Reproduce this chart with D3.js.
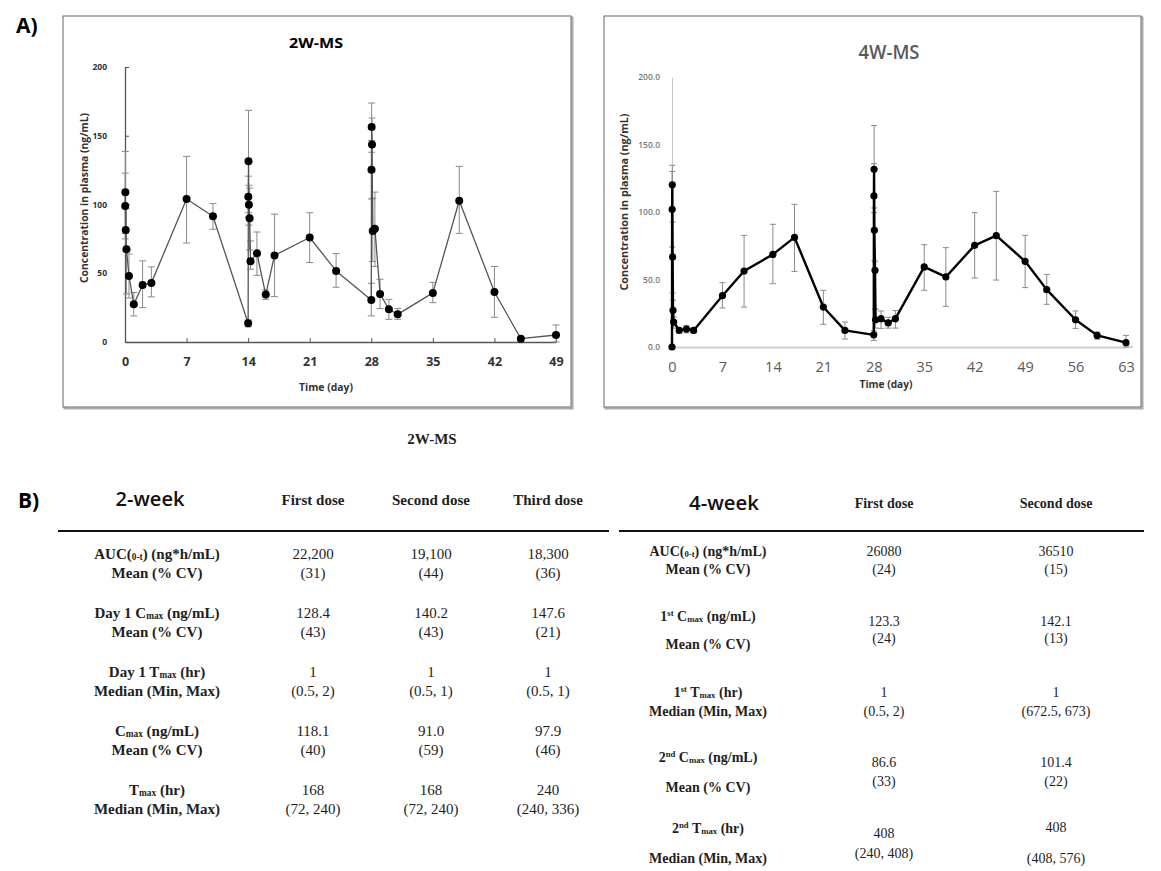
<!DOCTYPE html>
<html>
<head>
<meta charset="utf-8">
<script src="https://cdn.jsdelivr.net/npm/d3@7.9.0/dist/d3.min.js"></script>
<style>
  body { margin: 0; background: #fff; }
  svg { display: block; }
</style>
</head>
<body>
<svg id="fig" width="1161" height="871"></svg>
<script>
// ---- 2W-MS: mean concentration (ng/mL) with error bar ends ----
const days2w = [0.021, 0.042, 0.083, 0.167, 0.45, 1, 2, 3, 7, 10, 14, 14.021, 14.042, 14.083, 14.167, 14.27, 15, 16, 17, 21, 24, 28, 28.021, 28.042, 28.083, 28.167, 28.41, 29, 30, 31, 35, 38, 42, 45, 49];
const conc2w = [99, 109, 81.5, 67.5, 48, 27.4, 41.5, 43, 104, 91.5, 13.6, 105.6, 131.5, 99.8, 90, 58.7, 64.5, 34.5, 63, 76, 51.7, 30.6, 125.2, 156.3, 143.7, 80.8, 82.3, 35, 23.8, 20.1, 35.7, 102.7, 36.4, 2.4, 5.1];
const hi2w = [122.8, 138.6, 97, 100, 64, 36, 59, 54.6, 135, 100.7, 16, 120.6, 168.5, 114, 112, 73.5, 80, 37.9, 93, 94, 64.3, 42.7, 146.6, 173.8, 162.9, 104.6, 109, 45.6, 31, 24.3, 43.4, 127.7, 54.9, 2.4, 12.4];
const lo2w = [75, 79, 66, 35, 32, 19, 25, 32.8, 72, 82, 11, 91, 94, 85, 67, 53, 48.5, 31, 33, 57.8, 39.8, 19, 104, 138, 124, 58.5, 55, 24.3, 16.5, 16.5, 28.6, 79, 18, 2.4, 0];
const xTicks2w = [0, 7, 14, 21, 28, 35, 42, 49];
const yTicks2w = [0, 50, 100, 150, 200];

// ---- 4W-MS ----
const days4w = [0, 0.021, 0.042, 0.083, 0.14, 0.23, 1, 2, 3, 7, 10, 14, 17, 21, 24, 28, 28.021, 28.042, 28.083, 28.167, 28.25, 29, 30, 31, 35, 38, 42, 45, 49, 52, 56, 59, 63];
const conc4w = [0, 102, 120.2, 66.7, 27.2, 18.5, 12.3, 13.3, 12.3, 38, 56.3, 68.6, 81.2, 29.6, 12.3, 9, 111.9, 131.6, 86.4, 56.8, 20.2, 21, 17.8, 21, 59.3, 51.9, 75.3, 82.5, 63.5, 42.5, 20.2, 8.6, 3.2];
const hi4w = [0, 130, 134.6, 92.6, 34.6, 22.2, 14, 16, 14, 47.7, 82.7, 90.9, 105.7, 42, 18.5, 12, 135.8, 164, 103, 63, 28, 26.7, 22, 27, 75.8, 73.6, 99.5, 115.3, 82.7, 53.8, 26.7, 11.1, 8.6];
const lo4w = [0, 74, 100.5, 40, 20, 14, 10.5, 10.5, 10.5, 28.9, 29.6, 46.9, 56, 16.8, 5.9, 4.9, 88, 99.5, 64, 28, 14, 13.8, 14, 14, 42, 30.1, 51.1, 49.6, 44, 31.6, 13.8, 5.7, 0];
const xTicks4w = [0, 7, 14, 21, 28, 35, 42, 49, 56, 63];
const yTicks4w = [0, 50, 100, 150, 200];

// ---- PK tables (B) ----
// _x_ = small subscript-style text, ^x^ = superscript
const doses2w = ['First dose', 'Second dose', 'Third dose'];
const labelTop2w = ['AUC(_0-t_) (ng*h/mL)', 'Day 1 C_max_ (ng/mL)', 'Day 1 T_max_ (hr)', 'C_max_ (ng/mL)', 'T_max_ (hr)'];
const labelBot2w = ['Mean (% CV)', 'Mean (% CV)', 'Median (Min, Max)', 'Mean (% CV)', 'Median (Min, Max)'];
const first2w = ['22,200', '128.4', '1', '118.1', '168'];
const second2w = ['19,100', '140.2', '1', '91.0', '168'];
const third2w = ['18,300', '147.6', '1', '97.9', '240'];
const first2wSub = ['(31)', '(43)', '(0.5, 2)', '(40)', '(72, 240)'];
const second2wSub = ['(44)', '(43)', '(0.5, 1)', '(59)', '(72, 240)'];
const third2wSub = ['(36)', '(21)', '(0.5, 1)', '(46)', '(240, 336)'];

const doses4w = ['First dose', 'Second dose'];
const labelTop4w = ['AUC(_0-t_) (ng*h/mL)', '1^st^ C_max_ (ng/mL)', '1^st^ T_max_ (hr)', '2^nd^ C_max_ (ng/mL)', '2^nd^ T_max_ (hr)'];
const labelBot4w = ['Mean (% CV)', 'Mean (% CV)', 'Median (Min, Max)', 'Mean (% CV)', 'Median (Min, Max)'];
const first4w = ['26080', '123.3', '1', '86.6', '408'];
const second4w = ['36510', '142.1', '1', '101.4', '408'];
const first4wSub = ['(24)', '(24)', '(0.5, 2)', '(33)', '(240, 408)'];
const second4wSub = ['(15)', '(13)', '(672.5, 673)', '(22)', '(408, 576)'];

const SANS = '"Open Sans", "Noto Sans", sans-serif';
const SERIF = '"Liberation Serif", "DejaVu Serif", serif';

const svg = d3.select('#fig');
svg.append('rect').attr('width', 1161).attr('height', 871).attr('fill', '#fff');

// panel frame with a little drop shadow on the right / bottom
function frame(x0, y0, w, h) {
  svg.append('rect').attr('x', x0 + 1.5).attr('y', y0 + 1.5).attr('width', w).attr('height', h)
    .attr('fill', 'none').attr('stroke', '#aaa').attr('stroke-width', 2);
  svg.append('rect').attr('x', x0).attr('y', y0).attr('width', w).attr('height', h)
    .attr('fill', '#fff').attr('stroke', '#666').attr('stroke-width', 1);
}

// error bars + line + dots
function drawSeries(x, y, days, conc, hi, lo, opt) {
  const g = svg.append('g');
  const idx = d3.range(days.length).filter(i => hi[i] > lo[i]);
  const cap = opt.cap;
  const eb = g.selectAll('g.eb').data(idx).join('g')
    .attr('stroke', opt.errColor).attr('stroke-width', 1);
  eb.append('line')
    .attr('x1', i => x(days[i])).attr('x2', i => x(days[i]))
    .attr('y1', i => y(hi[i])).attr('y2', i => y(lo[i]));
  eb.append('line')
    .attr('x1', i => x(days[i]) - cap).attr('x2', i => x(days[i]) + cap)
    .attr('y1', i => y(hi[i])).attr('y2', i => y(hi[i]));
  eb.append('line')
    .attr('x1', i => x(days[i]) - cap).attr('x2', i => x(days[i]) + cap)
    .attr('y1', i => y(lo[i])).attr('y2', i => y(lo[i]));

  const line = d3.line().x((d, i) => x(days[i])).y(d => y(d));
  g.append('path').datum(conc).attr('d', line)
    .attr('fill', 'none').attr('stroke', opt.lineColor).attr('stroke-width', opt.lineWidth)
    .attr('stroke-linejoin', 'round');

  g.selectAll('circle').data(conc).join('circle')
    .attr('cx', (d, i) => x(days[i])).attr('cy', d => y(d))
    .attr('r', opt.r).attr('fill', '#000');
}

function label(txt, x, y, o) {
  const t = svg.append('text').attr('x', x).attr('y', y)
    .attr('text-anchor', o.anchor || 'middle')
    .attr('font-family', o.family || SANS)
    .attr('font-size', o.size).attr('font-weight', o.weight || 'normal')
    .attr('fill', o.fill || '#000').text(txt);
  if (o.rotate) t.attr('transform', `rotate(-90,${x},${y})`);
  if (o.len) t.attr('textLength', o.len).attr('lengthAdjust', 'spacingAndGlyphs');
  return t;
}

// ---------------- A) panel letters and frames ----------------
label('A)', 16, 33, { anchor: 'start', size: 21, weight: 'bold' });
frame(63, 16, 508, 391);
frame(604, 16, 537, 391);

// ---------------- 2W-MS chart ----------------
const x2 = d3.scaleLinear().domain([0, 49]).range([125, 556]);
const y2 = d3.scaleLinear().domain([0, 200]).range([342, 67]);

svg.append('g').attr('transform', `translate(0,${y2(0)})`)
  .call(d3.axisBottom(x2).tickValues(xTicks2w).tickSizeInner(-4).tickSizeOuter(0).tickPadding(15))
  .call(g => {
    g.select('.domain').attr('stroke', '#555').attr('stroke-width', 1.3);
    g.selectAll('.tick line').attr('stroke', '#555');
    g.selectAll('text').attr('font-family', SANS).attr('font-size', 12.5)
      .attr('font-weight', 'bold').attr('fill', '#333');
  });
svg.append('g').attr('transform', `translate(${x2(0)},0)`)
  .call(d3.axisLeft(y2).tickValues(yTicks2w).tickSizeInner(-4).tickSizeOuter(0).tickPadding(18))
  .call(g => {
    g.select('.domain').attr('stroke', '#555').attr('stroke-width', 1.3);
    g.selectAll('.tick line').attr('stroke', '#555');
    g.selectAll('text').attr('font-family', SANS).attr('font-size', 8.5)
      .attr('font-weight', 'bold').attr('fill', '#333');
  });

drawSeries(x2, y2, days2w, conc2w, hi2w, lo2w,
  { cap: 3.5, errColor: '#8a8a8a', lineColor: '#555', lineWidth: 1.3, r: 4 });

label('2W-MS', 316, 48, { size: 15, weight: 'bold', len: 54 });
label('Time (day)', 326, 391, { size: 10, weight: 'bold', fill: '#333', len: 54 });
label('Concentration in plasma  (ng/mL)', 88, 198, { size: 10.5, weight: 'bold', fill: '#333', rotate: true, len: 170 });

// ---------------- 4W-MS chart ----------------
const x4 = d3.scaleLinear().domain([0, 63]).range([672, 1126]);
const y4 = d3.scaleLinear().domain([0, 200]).range([347, 77]);

svg.append('g').attr('transform', `translate(${x4(0)},0)`)
  .call(d3.axisLeft(y4).tickValues(yTicks4w).tickSize(0).tickPadding(12).tickFormat(d3.format('.1f')))
  .call(g => {
    g.select('.domain').attr('stroke', '#c8c8c8').attr('stroke-width', 1);
    g.selectAll('text').attr('font-family', SANS).attr('font-size', 8.5)
      .attr('font-weight', 600).attr('fill', '#777');
  });
svg.append('g').attr('transform', `translate(0,${y4(0)})`)
  .call(d3.axisBottom(x4).tickValues(xTicks4w).tickSize(0).tickPadding(15))
  .call(g => {
    g.select('.domain').attr('stroke', '#d6d6d6').attr('stroke-width', 2.5);
    g.append('line').attr('x1', x4(63)).attr('x2', x4(63) + 7)
      .attr('stroke', '#d6d6d6').attr('stroke-width', 2.5);
    g.selectAll('text').attr('font-family', SANS).attr('font-size', 14.5).attr('fill', '#595959');
  });

drawSeries(x4, y4, days4w, conc4w, hi4w, lo4w,
  { cap: 3, errColor: '#8a8a8a', lineColor: '#000', lineWidth: 2.4, r: 3.6 });

label('4W-MS', 889, 59, { size: 19, weight: 600, fill: '#595959', len: 61 });
label('Time (day)', 886, 388, { size: 10.5, weight: 'bold', fill: '#333', len: 53 });
label('Concentration in plasma  (ng/mL)', 628, 202, { size: 10.5, weight: 'bold', fill: '#333', rotate: true, len: 177 });

// ---------------- B) tables ----------------
label('2W-MS', 432, 444, { family: SERIF, size: 15, weight: 'bold', fill: '#222' });
label('B)', 18, 508, { anchor: 'start', size: 21, weight: 'bold' });

function richText(x, y, str, o) {
  const t = svg.append('text').attr('x', x).attr('y', y).attr('text-anchor', 'middle')
    .attr('font-family', SERIF).attr('font-size', o.size)
    .attr('font-weight', o.weight || 'normal').attr('fill', '#1e1e1e');
  const parts = str.split(/(_[^_]+_|\^[^^]+\^)/).filter(s => s);
  let shift = 0;
  parts.forEach(p => {
    let txt = p, d = 0, small = false;
    if (p[0] === '_') { txt = p.slice(1, -1); d = 1; small = true; }
    else if (p[0] === '^') { txt = p.slice(1, -1); d = -5; small = true; }
    const sp = t.append('tspan').attr('dy', d - shift).text(txt);
    if (small) sp.attr('font-size', o.size * 0.62);
    shift = d;
  });
  return t;
}

// 2-week table
const lab2x = 157, col2x = [313, 431, 548];
label('2-week', 150, 506, { size: 19.5, weight: 600, fill: '#111', len: 69 });
doses2w.forEach((d, j) => richText(col2x[j], 505, d, { size: 15, weight: 'bold' }));
svg.append('line').attr('x1', 58).attr('x2', 609).attr('y1', 531).attr('y2', 531)
  .attr('stroke', '#111').attr('stroke-width', 2.2);
const vals2w = [first2w, second2w, third2w];
const subs2w = [first2wSub, second2wSub, third2wSub];
labelTop2w.forEach((l, i) => {
  const yA = 559 + 59 * i, yB = yA + 19;
  richText(lab2x, yA, l, { size: 15, weight: 'bold' });
  richText(lab2x, yB, labelBot2w[i], { size: 15, weight: 'bold' });
  vals2w.forEach((v, j) => {
    richText(col2x[j], yA, v[i], { size: 15 });
    richText(col2x[j], yB, subs2w[j][i], { size: 15 });
  });
});

// 4-week table
const lab4x = 708, col4x = [884, 1056];
const lab4yA = [556, 621, 697, 762, 833], lab4yB = [574, 649, 716, 792, 863];
const val4yA = [[556, 626, 697, 767, 838], [556, 626, 697, 767, 832]];
const val4yB = [[574, 643, 716, 786, 858], [574, 643, 716, 786, 863]];
label('4-week', 724, 510, { size: 19.5, weight: 600, fill: '#111', len: 70 });
doses4w.forEach((d, j) => richText(col4x[j], 508, d, { size: 14, weight: 'bold' }));
svg.append('line').attr('x1', 619).attr('x2', 1144).attr('y1', 531).attr('y2', 531)
  .attr('stroke', '#111').attr('stroke-width', 2.2);
const vals4w = [first4w, second4w];
const subs4w = [first4wSub, second4wSub];
labelTop4w.forEach((l, i) => {
  richText(lab4x, lab4yA[i], l, { size: 14, weight: 'bold' });
  richText(lab4x, lab4yB[i], labelBot4w[i], { size: 14, weight: 'bold' });
  vals4w.forEach((v, j) => {
    richText(col4x[j], val4yA[j][i], v[i], { size: 14 });
    richText(col4x[j], val4yB[j][i], subs4w[j][i], { size: 14 });
  });
});
</script>
</body>
</html>
